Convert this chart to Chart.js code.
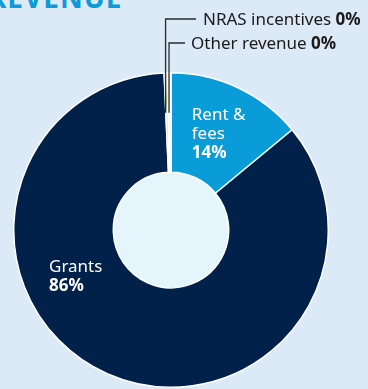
<!DOCTYPE html>
<html>
<head>
<meta charset="utf-8">
<script src="https://cdn.jsdelivr.net/npm/chart.js@4"></script>
<style>
  html, body { margin: 0; padding: 0; background: #dce9f6; overflow: hidden; }
  #wrap { position: relative; width: 368px; height: 389px; }
  #title { position: absolute; left: -12px; top: -22px; font: bold 28px "Noto Sans", sans-serif; color: #0a9bd8; letter-spacing: 1px; }
  canvas { position: absolute; left: 0; top: 0; }
</style>
</head>
<body>
<div id="wrap">
  <div id="title">REVENUE</div>
  <canvas id="revenueChart" width="368" height="389"></canvas>
</div>
<script>
// data, clockwise from 12 o'clock
var categories = ['Rent & fees', 'Grants', 'NRAS incentives', 'Other revenue'];
var shares = [14, 85.3, 0.3, 0.4];
var shareLabels = ['14%', '86%', '0%', '0%'];
var sliceColors = ['#0a9cd9', '#01204a', '#9ccc6a', '#f2f6fa'];

var FONT = '"Noto Sans", sans-serif';

var labelPlugin = {
    id: 'sliceLabels',
    beforeDatasetsDraw: function (chart) {
        var ctx = chart.ctx;
        var arc = chart.getDatasetMeta(0).data[0];
        ctx.save();
        ctx.fillStyle = '#e5f5fc';
        ctx.beginPath();
        ctx.arc(arc.x, arc.y, arc.innerRadius, 0, Math.PI * 2);
        ctx.fill();
        ctx.restore();
    },
    afterDatasetsDraw: function (chart) {
        var ctx = chart.ctx;
        var arcs = chart.getDatasetMeta(0).data;
        var cx = arcs[0].x, cy = arcs[0].y, r = arcs[0].outerRadius;
        ctx.save();
        ctx.textAlign = 'left';
        ctx.textBaseline = 'alphabetic';

        // Rent & fees
        var p = arcs[0].tooltipPosition();
        ctx.fillStyle = '#ffffff';
        ctx.font = '17px ' + FONT;
        ctx.fillText('Rent &', p.x - 25, p.y - 13);
        ctx.fillText('fees', p.x - 25, p.y + 6);
        ctx.font = 'bold 17px ' + FONT;
        ctx.fillText(shareLabels[0], p.x - 25, p.y + 25);

        // Grants
        ctx.font = '17px ' + FONT;
        ctx.fillText(categories[1], cx - 122, cy + 42);
        ctx.font = 'bold 17px ' + FONT;
        ctx.fillText(shareLabels[1], cx - 122, cy + 61);

        // small slices with leader lines
        var leaders = [
            { i: 2, y: 19, lineEnd: 196, textX: 203 },
            { i: 3, y: 43, lineEnd: 185, textX: 191 }
        ];
        leaders.forEach(function (l) {
            var a = arcs[l.i];
            var mid = (a.startAngle + a.endAngle) / 2;
            var lx = cx + Math.cos(mid) * r;
            ctx.strokeStyle = '#2b2b2b';
            ctx.lineWidth = 1.3;
            ctx.beginPath();
            ctx.moveTo(lx, cy + Math.sin(mid) * (r - 40));
            ctx.lineTo(lx, l.y);
            ctx.lineTo(l.lineEnd, l.y);
            ctx.stroke();
            ctx.fillStyle = '#1a1a1a';
            ctx.font = '17px ' + FONT;
            var label = categories[l.i] + ' ';
            ctx.fillText(label, l.textX, l.y + 6);
            var w = ctx.measureText(label).width;
            ctx.font = 'bold 17px ' + FONT;
            ctx.fillText(shareLabels[l.i], l.textX + w, l.y + 6);
        });
        ctx.restore();
    }
};

var revenueChart = new Chart(document.getElementById('revenueChart').getContext('2d'), {
    type: 'doughnut',
    data: {
        labels: categories,
        datasets: [{
            data: shares,
            backgroundColor: sliceColors,
            borderColor: '#ffffff',
            borderWidth: 1.5
        }]
    },
    options: {
        responsive: false,
        animation: false,
        cutout: '36.7%',
        layout: { padding: { left: 13, right: 39, top: 72, bottom: 1 } },
        plugins: {
            legend: { display: false },
            tooltip: { enabled: false }
        }
    },
    plugins: [labelPlugin]
});
</script>
</body>
</html>
